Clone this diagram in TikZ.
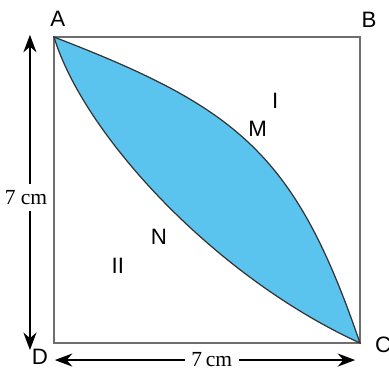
\documentclass[tikz,border=0pt]{standalone}
\usepackage{fontspec}
\setmainfont{Liberation Serif}
\setsansfont{Liberation Sans}
\usepackage{tikz}
\usetikzlibrary{arrows.meta,positioning,calc}
\definecolor{lensblue}{HTML}{5BC4EE}
\definecolor{edgegray}{HTML}{6E6E6E}
\tikzset{
  corner/.style={font=\sffamily\fontsize{14.5}{16}\selectfont, inner sep=1pt},
  dimlbl/.style={font=\fontsize{14}{16}\selectfont, inner sep=4pt, fill=white},
  flow/.style={-{Stealth[length=4mm,width=3mm]}, line width=1pt}
}
\begin{document}
\begin{tikzpicture}[scale=1.0]
  \useasboundingbox (-1.235,-0.618) rectangle (7.664,7.847);
  \coordinate (D) at (0,0);
  \coordinate (C) at (7,0);
  \coordinate (B) at (7,7);
  \coordinate (A) at (0,7);
  % square
  \draw[edgegray,line width=1.3pt] (A) -- (B) -- (C) -- (D) -- cycle;
  % shaded lens between the two arcs
  \draw[fill=lensblue,draw=black!80,line width=0.8pt]
    (A) .. controls (4.21,5.38) and (5.52,4.33) .. (C)
        .. controls (3.67,1.52) and (0.68,4.77) .. (A) -- cycle;
  % corner and region labels
  \node[corner] (lA) at (0.09,7.41) {A};
  \node[corner] (lB) at (7.21,7.39) {B};
  \node[corner] (lC) at (7.53,-0.05) {C};
  \node[corner] (lD) at (-0.32,-0.32) {D};
  \node[corner] (lM) at (4.66,4.90) {M};
  \node[corner] (lI) at (5.06,5.54) {I};
  \node[corner] (lN) at (2.40,2.43) {N};
  \node[corner] (lII) at (1.46,1.76) {II};
  % dimension arrows
  \node[dimlbl] (hgt) at (-0.64,3.32) {7 cm};
  \coordinate (hTop) at (-0.55,7.05);
  \coordinate (hBot) at (-0.55,-0.16);
  \draw[flow] (hgt.north -| hTop) -- (hTop);
  \draw[flow] (hgt.south -| hBot) -- (hBot);
  \node[dimlbl] (wid) at (3.61,-0.39) {7\,cm};
  \coordinate (wLeft) at (0.02,-0.39);
  \coordinate (wRight) at (6.89,-0.39);
  \draw[flow] (wid) -- (wLeft);
  \draw[flow] (wid) -- (wRight);
\end{tikzpicture}
\end{document}
